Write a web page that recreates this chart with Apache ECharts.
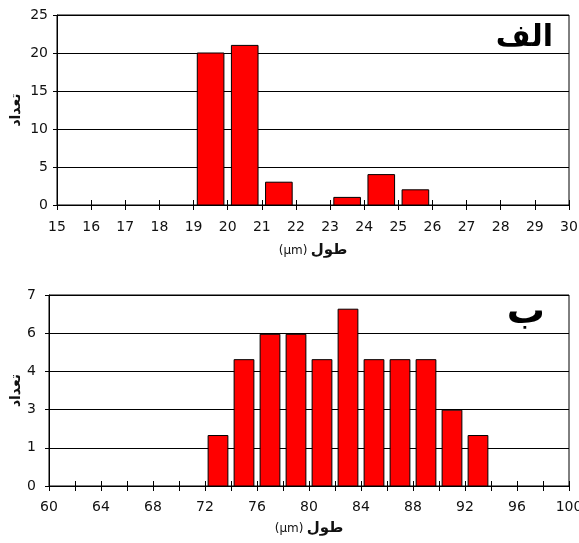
<!DOCTYPE html>
<html>
<head>
<meta charset="utf-8">
<script src="https://cdn.jsdelivr.net/npm/echarts@6/dist/echarts.min.js"></script>
<style>
  html, body { margin: 0; padding: 0; background: #fff; }
  #chart { width: 579px; height: 543px; }
</style>
</head>
<body>
<div id="chart"></div>
<script>
// Panel "الف": length histogram, 1 µm bins
const topBinStart = [19, 20, 21, 23, 24, 25];
const topCounts = [20, 21, 3, 1, 4, 2];
const topBinWidth = 1;

// Panel "ب": length histogram, 2 µm bins
const bottomBinStart = [72, 74, 76, 78, 80, 82, 84, 86, 88, 90, 92];
const bottomValues = [1.85, 4.63, 5.56, 5.56, 4.63, 6.48, 4.63, 4.63, 4.63, 2.78, 1.85];
const bottomBinWidth = 2;

const topTicks = { min: 15, max: 30, step: 1 };
const bottomTicks = { min: 60, max: 100, step: 2, labelStep: 4 };
const topYTicks = { min: 0, max: 25, step: 5 };
const bottomYTicks = { min: 0, max: 7, step: 1.4 };

const FONT = 'DejaVu Sans';
const INK = '#111';

function binRenderer(padFrac) {
  return function (params, api) {
    const start = api.value(0), end = api.value(1), v = api.value(2);
    const pad = (end - start) * padFrac;
    const p0 = api.coord([start + pad, v]);
    const p1 = api.coord([end - pad, 0]);
    return {
      type: 'rect',
      shape: { x: p0[0], y: p0[1], width: p1[0] - p0[0], height: p1[1] - p0[1] },
      style: { fill: '#ff0000', stroke: '#000', lineWidth: 1 }
    };
  };
}

const labelStyle = { color: INK, fontFamily: FONT, fontSize: 14 };
const xName = '{n|(µm)} {b|طول}';
const xNameStyle = {
  rich: {
    n: { fontFamily: FONT, fontSize: 12, color: INK },
    b: { fontFamily: FONT, fontSize: 15, fontWeight: 'bold', color: INK }
  }
};

function xAxes(gridIndex, t, labelFmt, labelMargin, nameGap) {
  return [
    {
      gridIndex, type: 'value', min: t.min, max: t.max, interval: t.step,
      axisLine: { show: true, lineStyle: { color: '#000', width: 1 } },
      axisTick: { show: true, inside: false, length: 5, lineStyle: { color: '#000' } },
      axisLabel: Object.assign({ margin: labelMargin, formatter: labelFmt }, labelStyle),
      splitLine: { show: false },
      name: xName, nameLocation: 'middle', nameGap: nameGap, nameTextStyle: xNameStyle,
      nameMoveOverlap: false
    },
    {
      gridIndex, type: 'value', min: t.min, max: t.max, interval: t.step, position: 'bottom',
      axisLine: { show: false },
      axisTick: { show: true, inside: true, length: 5, lineStyle: { color: '#000' } },
      axisLabel: { show: false },
      splitLine: { show: false }
    }
  ];
}

function yAxis(gridIndex, t, fmt, labelMargin, gap) {
  return {
    gridIndex, type: 'value', min: t.min, max: t.max, interval: t.step,
    axisLine: { show: true, lineStyle: { color: '#000', width: 1 } },
    axisTick: { show: true, inside: false, length: 4, lineStyle: { color: '#000' } },
    axisLabel: Object.assign({ margin: labelMargin, formatter: fmt }, labelStyle),
    splitLine: { show: true, lineStyle: { color: '#000', width: 1 } },
    name: 'تعداد', nameLocation: 'middle', nameRotate: 90, nameGap: gap,
    nameMoveOverlap: false,
    nameTextStyle: { fontFamily: FONT, fontSize: 14, fontWeight: 'bold', color: INK }
  };
}

const chart = echarts.init(document.getElementById('chart'), null, { renderer: 'canvas' });

const gridBase = {
  right: 10, show: true, borderColor: '#000', borderWidth: 1,
  backgroundColor: 'transparent', containLabel: false, outerBoundsMode: 'none'
};

chart.setOption({
  animation: false,
  backgroundColor: '#fff',
  grid: [
    Object.assign({ left: 57, top: 15, height: 190 }, gridBase),
    Object.assign({ left: 49, top: 295, height: 191 }, gridBase)
  ],
  xAxis: [
    ...xAxes(0, topTicks, v => String(v), 15, 38),
    ...xAxes(1, bottomTicks, v => (v % bottomTicks.labelStep === 0 ? String(v) : ''), 14, 35)
  ],
  yAxis: [
    yAxis(0, topYTicks, v => String(v), 9, 34),
    yAxis(1, bottomYTicks, v => String(Math.round(v)), 13, 26)
  ],
  series: [
    {
      type: 'custom', xAxisIndex: 0, yAxisIndex: 0,
      renderItem: binRenderer(0.11),
      encode: { x: [0, 1], y: 2 },
      data: topBinStart.map((s, i) => [s, s + topBinWidth, topCounts[i]])
    },
    {
      type: 'custom', xAxisIndex: 2, yAxisIndex: 1,
      renderItem: binRenderer(0.12),
      encode: { x: [0, 1], y: 2 },
      data: bottomBinStart.map((s, i) => [s, s + bottomBinWidth, bottomValues[i]])
    }
  ],
  graphic: [
    {
      type: 'text', right: 26, top: 23,
      style: { text: 'الف', font: 'bold 30px "DejaVu Sans"', fill: '#000' }
    },
    {
      type: 'text', right: 34, top: 294,
      style: { text: 'ب', font: 'bold 38px "DejaVu Sans"', fill: '#000' }
    }
  ]
});
</script>
</body>
</html>
